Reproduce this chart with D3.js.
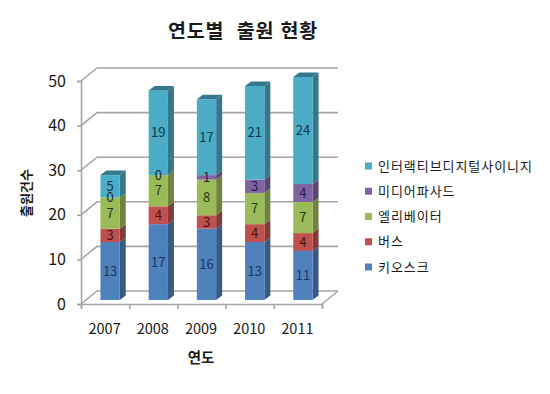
<!DOCTYPE html>
<html lang="ko">
<head>
<meta charset="utf-8">
<script src="https://cdn.jsdelivr.net/npm/d3@7"></script>
<style>
  html, body { margin: 0; padding: 0; background: #fff; }
  text { font-family: "Noto Sans CJK KR", "Noto Sans", sans-serif; fill: #1a1a1a; }
</style>
</head>
<body>
<div id="chart"></div>
<script>
// ==============================
// DATA
// ==============================
const years = ["2007", "2008", "2009", "2010", "2011"];
const seriesNames = ["키오스크", "버스", "엘리베이터", "미디어파사드", "인터랙티브디지털사이니지"];
const kiosk = [13, 17, 16, 13, 11];
const bus = [3, 4, 3, 4, 4];
const elevator = [7, 7, 8, 7, 7];
const facade = [0, 0, 1, 3, 4];
const signage = [5, 19, 17, 21, 24];
const colors = ["#4f81bd", "#c0504d", "#9bbb59", "#8064a2", "#4bacc6"];
const labelColors = ["#17375e", "#4a1513", "#2c3a12", "#2b1e3d", "#0f3a47"];
const yTicks = [0, 10, 20, 30, 40, 50];

// ==============================
// SVG AND SCALES
// ==============================
const width = 550, height = 394;
const svg = d3.select("#chart").append("svg")
  .attr("width", width).attr("height", height);

const x = d3.scaleBand().domain(years).range([81, 322]).paddingInner(0.6).paddingOuter(0.3);
const y = d3.scaleLinear().domain([0, 50]).range([304, 81]);

// 3D offsets: wall, bar depth, bar lift from the floor
const wallX = 16, wallY = 13, depthX = 6, depthY = 4.5, lift = 4, barShift = 5;
const gridColor = "#a6a6a6";

// ==============================
// WALLS AND GRIDLINES
// ==============================
const walls = svg.append("g").attr("fill", "none").attr("stroke", gridColor).attr("stroke-width", 1.6);

walls.selectAll("path.grid")
  .data(yTicks)
  .join("path")
  .attr("class", "grid")
  .attr("d", d => `M${x.range()[0]},${y(d)}L${x.range()[0] + wallX},${y(d) - wallY}H${x.range()[1] + wallX}`);

walls.append("path")
  .attr("d", `M${x.range()[1]},${y(0)}L${x.range()[1] + wallX},${y(0) - wallY}`);

// ==============================
// AXES
// ==============================
const axisLeft = d3.axisLeft(y).tickValues(yTicks).tickSize(4).tickPadding(11);
const axisBottom = d3.axisBottom(d3.scalePoint().domain(years.concat("")).range(x.range()))
  .tickSize(5).tickFormat("");

const gy = svg.append("g").attr("transform", `translate(${x.range()[0]},0)`).call(axisLeft);
const gx = svg.append("g").attr("transform", `translate(0,${y(0)})`).call(axisBottom);

[gy, gx].forEach(g => {
  g.selectAll("path, line").attr("stroke", gridColor).attr("stroke-width", 1.6);
});
gy.selectAll("text").style("font-size", "16px");

svg.append("g").selectAll("text")
  .data(years)
  .join("text")
  .attr("x", d => x(d) + x.bandwidth() / 2 - 0.5)
  .attr("y", 334)
  .attr("text-anchor", "middle")
  .style("font-size", "14.5px")
  .text(d => d);

// ==============================
// STACKED BARS
// ==============================
const rows = years.map((year, i) => ({
  year,
  [seriesNames[0]]: kiosk[i],
  [seriesNames[1]]: bus[i],
  [seriesNames[2]]: elevator[i],
  [seriesNames[3]]: facade[i],
  [seriesNames[4]]: signage[i]
}));
const stacked = d3.stack().keys(seriesNames)(rows);

const layers = svg.selectAll("g.layer")
  .data(stacked)
  .join("g")
  .attr("class", "layer");

layers.each(function (layer, s) {
  const g = d3.select(this);
  const base = d3.color(colors[s]);

  layer.forEach(d => {
    const x0 = x(d.data.year) + barShift;
    const x1 = x0 + x.bandwidth();
    const top = y(d[1]) - lift;
    const bottom = y(d[0]) - lift;

    // right side
    g.append("path")
      .attr("fill", base.darker(1))
      .attr("d", `M${x1},${top}l${depthX},${-depthY}V${bottom - depthY}L${x1},${bottom}Z`);
    // front
    g.append("rect")
      .attr("x", x0).attr("y", top)
      .attr("width", x.bandwidth()).attr("height", bottom - top)
      .attr("fill", base);
    // top, only visible on the last series
    if (s === stacked.length - 1) {
      g.append("path")
        .attr("fill", base.darker(1))
        .attr("d", `M${x0},${top}l${depthX},${-depthY}H${x1 + depthX}L${x1},${top}Z`);
    }
  });
});

// labels in their own group on top, so zero segments stay readable
const labels = svg.append("g");
stacked.forEach((layer, s) => {
  labels.append("g").selectAll("text")
    .data(layer)
    .join("text")
    .attr("x", d => x(d.data.year) + barShift + x.bandwidth() / 2)
    .attr("y", d => (y(d[0]) + y(d[1])) / 2 - lift)
    .attr("dy", "0.36em")
    .attr("text-anchor", "middle")
    .style("font-size", "13px")
    .style("fill", labelColors[s])
    .text(d => d[1] - d[0]);
});

// ==============================
// TITLES
// ==============================
svg.append("text")
  .attr("x", 168).attr("y", 38)
  .style("font-size", "19.5px").style("font-weight", "700")
  .style("letter-spacing", "0.8px")
  .style("white-space", "pre")
  .text("연도별  출원 현황");

svg.append("text")
  .attr("transform", "translate(31,193) rotate(-90)")
  .attr("text-anchor", "middle")
  .style("font-size", "13px").style("font-weight", "700")
  .text("출원건수");

svg.append("text")
  .attr("x", 201).attr("y", 363)
  .attr("text-anchor", "middle")
  .style("font-size", "14.5px").style("font-weight", "700")
  .text("연도");

// ==============================
// LEGEND
// ==============================
const legendY = d3.scalePoint().domain(seriesNames).range([267, 166]);

const legend = svg.append("g").selectAll("g")
  .data(seriesNames)
  .join("g")
  .attr("transform", d => `translate(365,${legendY(d)})`);

legend.append("rect")
  .attr("x", 0).attr("y", -3.5)
  .attr("width", 7).attr("height", 7)
  .attr("fill", (d, i) => colors[i]);

legend.append("text")
  .attr("x", 13).attr("dy", "0.36em")
  .style("font-size", "13px")
  .style("letter-spacing", "0.95px")
  .text(d => d);
</script>
</body>
</html>
